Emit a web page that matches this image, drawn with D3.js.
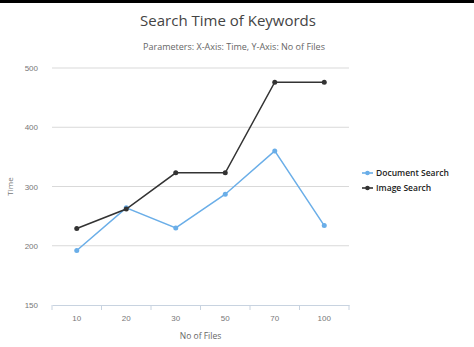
<!DOCTYPE html>
<html>
<head>
<meta charset="utf-8">
<script src="https://cdn.jsdelivr.net/npm/d3@7"></script>
<style>
	body { margin: 0; background: #fff; }
	svg { display: block; font-family: "Open Sans", sans-serif; }
</style>
</head>
<body>
<div id="chart"></div>
<script>
var categories = ['10', '20', '30', '50', '70', '100'];
var docSearch = [192, 264, 230, 287, 360, 234];
var imgSearch = [229, 262, 323, 323, 476, 476];
var yTicks = [100, 200, 300, 400, 500];
var yTickLabels = ['150', '200', '300', '400', '500'];

var
	W = 474,
	H = 347,
	margin = {top: 68, right: 125, bottom: 42, left: 52},
	width = W - margin.left - margin.right,
	height = H - margin.top - margin.bottom;

var svg = d3.select('#chart')
	.append('svg')
	.attr('width', W)
	.attr('height', H);

// черная полоса сверху
svg.append('rect')
	.attr('x', 0).attr('y', 0)
	.attr('width', W).attr('height', 3)
	.attr('fill', '#000');

svg.append('text')
	.attr('x', 228).attr('y', 26)
	.attr('text-anchor', 'middle')
	.attr('font-size', 15)
	.attr('fill', '#444')
	.text('Search Time of Keywords');

svg.append('text')
	.attr('x', 234).attr('y', 50)
	.attr('text-anchor', 'middle')
	.attr('font-size', 9)
	.attr('fill', '#666')
	.text('Parameters: X-Axis: Time, Y-Axis: No of Files');

var g = svg.append('g')
	.attr('transform', 'translate(' + margin.left + ',' + margin.top + ')');

var x = d3.scaleBand().domain(categories).range([0, width]);
var y = d3.scaleLinear().domain([100, 500]).range([height, 0]);

// сетка
g.selectAll('.grid')
	.data(yTicks.slice(1))
	.enter()
	.append('line')
	.attr('x1', 0).attr('x2', width)
	.attr('y1', function(d) { return y(d); })
	.attr('y2', function(d) { return y(d); })
	.attr('stroke', '#d9d9d9')
	.attr('stroke-width', 1);

var yAxis = g.append('g')
	.call(d3.axisLeft(y).tickValues(yTicks).tickSize(0).tickPadding(14)
		.tickFormat(function(d, i) { return yTickLabels[i]; }));
yAxis.select('.domain').remove();
yAxis.selectAll('text').attr('fill', '#777').attr('font-size', 8);

var xAxis = g.append('g')
	.attr('transform', 'translate(0,' + height + ')')
	.call(d3.axisBottom(x).tickSize(0).tickPadding(10));
xAxis.select('.domain').attr('stroke', '#c8d3e0');
xAxis.selectAll('text').attr('fill', '#777').attr('font-size', 8);
// засечки между категориями
xAxis.selectAll('.sep')
	.data(d3.range(categories.length + 1))
	.enter()
	.append('line')
	.attr('x1', function(i) { return i * x.step(); })
	.attr('x2', function(i) { return i * x.step(); })
	.attr('y1', 0).attr('y2', 5)
	.attr('stroke', '#c8d3e0');

svg.append('text')
	.attr('transform', 'translate(13,' + (margin.top + height / 2) + ') rotate(-90)')
	.attr('text-anchor', 'middle')
	.attr('font-size', 8)
	.attr('fill', '#777')
	.text('Time');

svg.append('text')
	.attr('x', margin.left + width / 2).attr('y', 339)
	.attr('text-anchor', 'middle')
	.attr('font-size', 8.5)
	.attr('fill', '#666')
	.text('No of Files');

var series = [
	{name: 'Document Search', values: docSearch, color: '#6aaee8'},
	{name: 'Image Search', values: imgSearch, color: '#333'}
];

var line = d3.line()
	.x(function(d, i) { return x(categories[i]) + x.bandwidth() / 2; })
	.y(function(d) { return y(d); });

series.forEach(function(s) {
	g.append('path')
		.datum(s.values)
		.attr('fill', 'none')
		.attr('stroke', s.color)
		.attr('stroke-width', 1.5)
		.attr('d', line);
	g.selectAll(null)
		.data(s.values)
		.enter()
		.append('circle')
		.attr('cx', function(d, i) { return x(categories[i]) + x.bandwidth() / 2; })
		.attr('cy', function(d) { return y(d); })
		.attr('r', 2.5)
		.attr('fill', s.color);
});

var legend = svg.append('g')
	.attr('transform', 'translate(362,173)');
var item = legend.selectAll('g')
	.data(series)
	.enter()
	.append('g')
	.attr('transform', function(d, i) { return 'translate(0,' + (i * 15) + ')'; });
item.append('line')
	.attr('x1', 0).attr('x2', 11)
	.attr('stroke', function(d) { return d.color; })
	.attr('stroke-width', 1.6);
item.append('circle')
	.attr('cx', 5.5).attr('r', 2.3)
	.attr('fill', function(d) { return d.color; });
item.append('text')
	.attr('x', 14).attr('dy', '0.35em')
	.attr('font-size', 8.5)
	.attr('font-weight', 600)
	.attr('fill', '#222')
	.text(function(d) { return d.name; });
</script>
</body>
</html>
